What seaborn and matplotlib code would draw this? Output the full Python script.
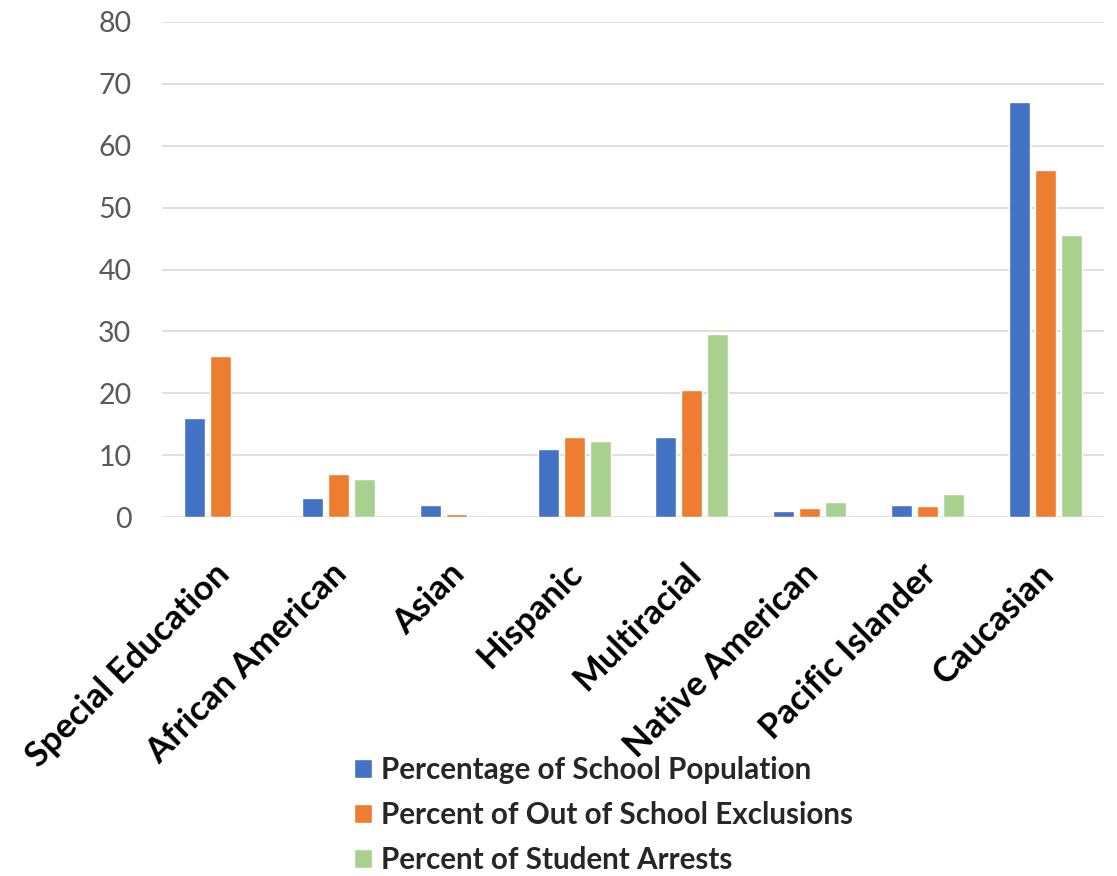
import matplotlib
matplotlib.use("Agg")
import matplotlib.pyplot as plt
import matplotlib.transforms as mtransforms
import numpy as np
import pandas as pd
import seaborn as sns

categories = ["Special Education", "African American", "Asian", "Hispanic",
              "Multiracial", "Native American", "Pacific Islander", "Caucasian"]
school_population = [16.0, 3.0, 2.0, 11.0, 13.0, 1.0, 2.0, 67.0]
out_of_school_exclusions = [26.1, 6.9, 0.5, 12.9, 20.5, 1.4, 1.7, 56.0]
student_arrests = [np.nan, 6.1, np.nan, 12.3, 29.6, 2.4, 3.7, 45.6]
series_names = ["Percentage of School Population",
                "Percent of Out of School Exclusions",
                "Percent of Student Arrests"]
series_colors = ["#4472C4", "#ED7D31", "#A9D18E"]
y_ticks = [0, 10, 20, 30, 40, 50, 60, 70, 80]

frames = []
for name, vals in zip(series_names,
                      [school_population, out_of_school_exclusions, student_arrests]):
    frames.append(pd.DataFrame({"group": categories, "series": name, "value": vals}))
df = pd.concat(frames, ignore_index=True)

sns.set_theme(style="white")
plt.rcParams["font.family"] = ["Lato", "DejaVu Sans"]

fig = plt.figure(figsize=(11.17, 8.76), dpi=100)
ax = fig.add_axes([162 / 1117, 1 - 517 / 876, (1104 - 162) / 1117, (517 - 22) / 876])

sns.barplot(data=df, x="group", y="value", hue="series", order=categories,
            hue_order=series_names, palette=series_colors, width=0.66, gap=0.19,
            saturation=1, errorbar=None, ax=ax, zorder=3)

ax.set_ylim(0, 80)
ax.set_xlim(-0.5, len(categories) - 0.5)
ax.set_yticks(y_ticks)
ax.set_yticklabels([str(t) for t in y_ticks], fontsize=20.5, color="#595959")
ax.yaxis.grid(True, color="#D9D9D9", linewidth=1.2, zorder=0)
ax.set_axisbelow(True)
for s in ax.spines.values():
    s.set_visible(False)
ax.tick_params(axis="both", length=0)
ax.tick_params(axis="y", pad=22)
ax.set_xlabel("")
ax.set_ylabel("")

ax.set_xticks(range(len(categories)))
ax.set_xticklabels(categories, rotation=45, ha="right", va="top",
                   rotation_mode="anchor", fontsize=25, fontweight="bold",
                   color="black")
ax.tick_params(axis="x", pad=29)
shift = mtransforms.ScaledTranslation(-8 / 100, 0, fig.dpi_scale_trans)
for lbl in ax.get_xticklabels():
    lbl.set_transform(lbl.get_transform() + shift)

handles, labels = ax.get_legend_handles_labels()
ax.get_legend().remove()
fig.legend(handles, labels, loc="upper left", bbox_to_anchor=(354 / 1117, 1 - 756 / 876),
           frameon=False, prop={"size": 21.3, "weight": "bold"}, handlelength=0.62,
           handleheight=0.62, handletextpad=0.3, labelspacing=0.58, borderpad=0,
           borderaxespad=0)

fig.savefig("out.png", dpi=100, facecolor="white")
